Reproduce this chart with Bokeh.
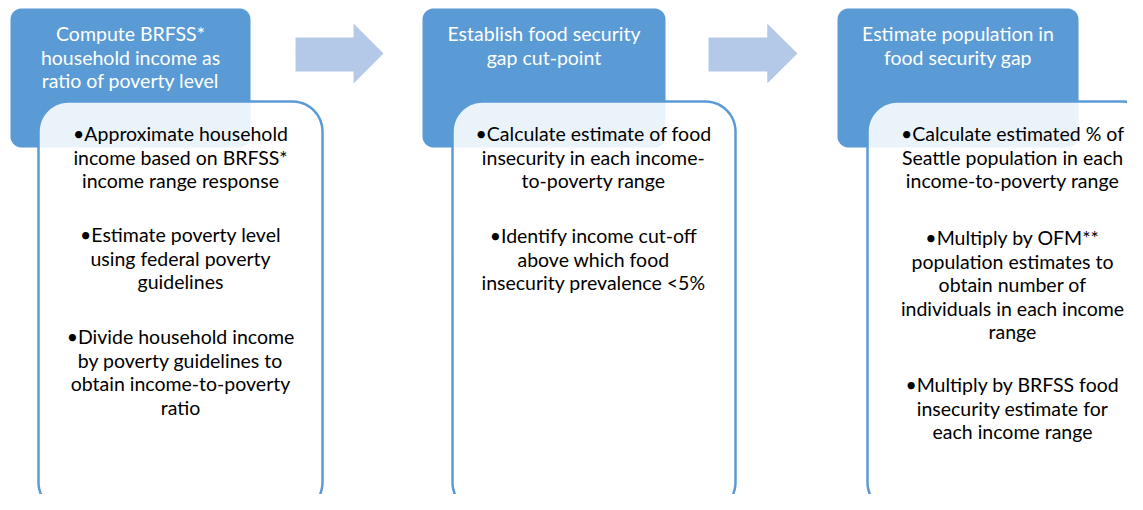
import numpy as np
from bokeh.plotting import figure
from bokeh.models import Range1d
from bokeh.core.properties import value
from bokeh.embed import file_html
from bokeh.resources import INLINE

# ---- content ----
headers = [
    ["Compute BRFSS*", "household income as", "ratio of poverty level"],
    ["Establish food security", "gap cut-point"],
    ["Estimate population in", "food security gap"],
]
bullets_1 = [
    ["\u2022Approximate household", "income based on BRFSS*", "income range response"],
    ["\u2022Estimate poverty level", "using federal poverty", "guidelines"],
    ["\u2022Divide household income", "by poverty guidelines to", "obtain income-to-poverty", "ratio"],
]
bullets_2 = [
    ["\u2022Calculate estimate of food", "insecurity in each income-", "to-poverty range"],
    ["\u2022Identify income cut-off", "above which food", "insecurity prevalence <5%"],
]
bullets_3 = [
    ["\u2022Calculate estimated % of", "Seattle population in each", "income-to-poverty range"],
    ["\u2022Multiply by OFM**", "population estimates to", "obtain number of", "individuals in each income", "range"],
    ["\u2022Multiply by BRFSS food", "insecurity estimate for", "each income range"],
]
bullets = [bullets_1, bullets_2, bullets_3]

# ---- layout (pixel-like coordinates, y downward) ----
BLUE = "#5B9BD5"
ARROW = "#B4C8E8"
FONT = "Lato"
FSIZE = "19.5px"

blue_boxes = [(10, 8, 250, 147), (422, 8, 665, 147), (837, 8, 1078, 147)]
white_boxes = [(38, 101, 322, 512), (452, 101, 735, 512), (867, 101, 1152, 512)]
arrows = [(295, 383), (708, 797)]
body_cx = [180, 593, 1012]
para_start = [[133, 234, 336], [133, 235], [133, 237, 384]]

W, H = 1127, 494
p = figure(width=W, height=H, output_backend="svg", toolbar_location=None,
           x_range=Range1d(0, W), y_range=Range1d(H, 0),
           min_border=0, outline_line_color=None)
p.axis.visible = False
p.grid.visible = False
p.background_fill_color = "white"
p.border_fill_color = "white"


def rrect(x0, y0, x1, y1, r, n=14):
    xs, ys = [], []
    corners = [(x1 - r, y0 + r, -np.pi / 2, 0), (x1 - r, y1 - r, 0, np.pi / 2),
               (x0 + r, y1 - r, np.pi / 2, np.pi), (x0 + r, y0 + r, np.pi, 1.5 * np.pi)]
    for cx, cy, a0, a1 in corners:
        t = np.linspace(a0, a1, n)
        xs.extend(cx + r * np.cos(t))
        ys.extend(cy + r * np.sin(t))
    return xs, ys


# arrows
for x0, tip in arrows:
    hx = x0 + (tip - x0) * 0.66
    ax = [x0, hx, hx, tip, hx, hx, x0]
    ay = [37, 37, 23, 53, 83, 71, 71]
    p.patch(ax, ay, fill_color=ARROW, line_color=None)

for i in range(3):
    bx, by = rrect(*blue_boxes[i], 11)
    p.patch(bx, by, fill_color=BLUE, line_color=None)
    wx, wy = rrect(*white_boxes[i], 30)
    p.patch(wx, wy, fill_color="white", fill_alpha=0.88, line_color=BLUE, line_width=2.5)

    hcx = (blue_boxes[i][0] + blue_boxes[i][2]) / 2
    hy = [33 + 23.5 * k for k in range(len(headers[i]))]
    p.text([hcx] * len(hy), hy, text=headers[i], text_color="white",
           text_font=value(FONT), text_font_size=FSIZE,
           text_align="center", text_baseline="middle")

    for para, y0 in zip(bullets[i], para_start[i]):
        ys = [y0 + 23.6 * k for k in range(len(para))]
        p.text([body_cx[i]] * len(ys), ys, text=para, text_color="black",
               text_font=value(FONT), text_font_size=FSIZE,
               text_align="center", text_baseline="middle")

open("out.html", "w").write(file_html(p, INLINE))
